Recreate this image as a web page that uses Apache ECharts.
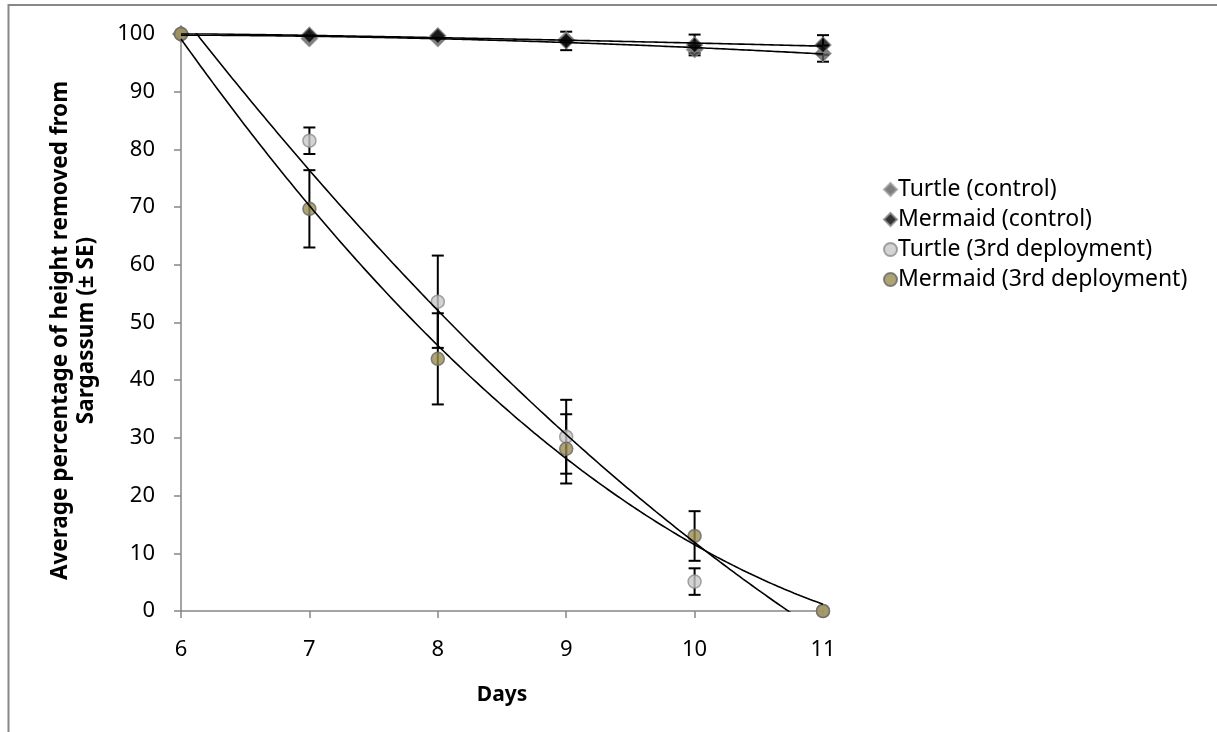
<!DOCTYPE html>
<html>
<head>
<meta charset="utf-8">
<script src="https://cdn.jsdelivr.net/npm/echarts@6/dist/echarts.min.js"></script>
<style>
html,body{margin:0;padding:0;background:#fff;}
#chart{width:1217px;height:732px;}
</style>
</head>
<body>
<div id="chart"></div>
<script>
// ---- data ----
const days = [6, 7, 8, 9, 10, 11];
const xTicks = [6, 7, 8, 9, 10, 11];
const yTicks = [0, 10, 20, 30, 40, 50, 60, 70, 80, 90, 100];

const turtleCtrl    = [100, 99.2, 99.2, 99.0, 97.3, 96.6];
const turtleCtrlSE  = [0, 0, 0, 0.3, 0.6, 1.4];
const mermaidCtrl   = [100, 99.8, 99.7, 98.8, 98.1, 98.1];
const mermaidCtrlSE = [0, 0, 0, 1.6, 1.8, 1.7];
const turtle3rd     = [100, 81.5, 53.6, 30.2, 5.1, 0];
const turtle3rdSE   = [0, 2.3, 8.0, 6.4, 2.3, 0];
const mermaid3rd    = [100, 69.7, 43.7, 28.1, 13.0, 0];
const mermaid3rdSE  = [0, 6.7, 7.9, 6.0, 4.3, 0];

const seriesNames = ['Turtle (control)', 'Mermaid (control)', 'Turtle (3rd deployment)', 'Mermaid (3rd deployment)'];

// ---- helpers ----
function pairs(xs, ys) { return xs.map((x, i) => [x, ys[i]]); }
function errPairs(xs, ys, se) {
  const out = [];
  xs.forEach((x, i) => { if (se[i] > 0) out.push([x, ys[i] - se[i], ys[i] + se[i]]); });
  return out;
}
// Excel-style order-2 polynomial trendline (least squares)
function quadFit(xs, ys) {
  let S = [0,0,0,0,0], T = [0,0,0];
  xs.forEach((x, i) => {
    for (let k = 0; k < 5; k++) S[k] += Math.pow(x, k);
    for (let k = 0; k < 3; k++) T[k] += Math.pow(x, k) * ys[i];
  });
  const M = [[S[0],S[1],S[2],T[0]],[S[1],S[2],S[3],T[1]],[S[2],S[3],S[4],T[2]]];
  for (let c = 0; c < 3; c++) {
    for (let r = c + 1; r < 3; r++) {
      const f = M[r][c] / M[c][c];
      for (let k = c; k < 4; k++) M[r][k] -= f * M[c][k];
    }
  }
  const coef = [0,0,0];
  for (let r = 2; r >= 0; r--) {
    let s = M[r][3];
    for (let k = r + 1; k < 3; k++) s -= M[r][k] * coef[k];
    coef[r] = s / M[r][r];
  }
  return coef;
}
function trend(xs, ys) {
  const c = quadFit(xs, ys);
  const out = [];
  const x0 = xs[0], x1 = xs[xs.length - 1];
  for (let i = 0; i <= 200; i++) {
    const x = x0 + (x1 - x0) * i / 200;
    out.push([x, c[0] + c[1] * x + c[2] * x * x]);
  }
  return out;
}

function errorSeries(data) {
  return {
    type: 'custom', z: 2, silent: true, clip: false,
    data: data,
    renderItem: function (params, api) {
      const x = api.value(0);
      const lo = api.coord([x, api.value(1)]);
      const hi = api.coord([x, api.value(2)]);
      const hw = 6;
      const st = { stroke: '#000', lineWidth: 2 };
      return {
        type: 'group',
        children: [
          { type: 'line', shape: { x1: lo[0], y1: lo[1], x2: hi[0], y2: hi[1] }, style: st },
          { type: 'line', shape: { x1: lo[0] - hw, y1: lo[1], x2: lo[0] + hw, y2: lo[1] }, style: st },
          { type: 'line', shape: { x1: hi[0] - hw, y1: hi[1], x2: hi[0] + hw, y2: hi[1] }, style: st }
        ]
      };
    }
  };
}
function trendSeries(data) {
  return {
    type: 'line', data: data, showSymbol: false, symbol: 'none', smooth: false,
    clip: true, silent: true, z: 4,
    lineStyle: { color: '#000', width: 1.6 }
  };
}

const FONT = 'Noto Sans';
const chart = echarts.init(document.getElementById('chart'));
chart.setOption({
  animation: false,
  backgroundColor: '#fff',
  graphic: [{
    type: 'rect', shape: { x: 8.5, y: 5, width: 1400, height: 900 },
    style: { fill: 'none', stroke: '#888', lineWidth: 2 }, silent: true, z: -1
  }],
  grid: { left: 181, right: 1217 - 823, top: 34, bottom: 732 - 611 },
  xAxis: {
    type: 'value', min: 6, max: 11, interval: 1,
    name: 'Days', nameLocation: 'middle', nameGap: 74,
    nameTextStyle: { fontFamily: FONT, fontWeight: 'bold', fontSize: 21, color: '#000' },
    axisLine: { onZero: false, lineStyle: { color: '#868686', width: 1.5 } },
    axisTick: { show: true, length: 7, inside: false, lineStyle: { color: '#868686', width: 1.5 } },
    axisLabel: { fontFamily: FONT, fontSize: 22, color: '#000', margin: 28,
      formatter: v => xTicks.includes(v) ? String(v) : '' },
    splitLine: { show: false }
  },
  yAxis: {
    type: 'value', min: 0, max: 100, interval: 10,
    name: 'Average percentage of height removed from\nSargassum (± SE)',
    nameLocation: 'middle', nameGap: 81, nameRotate: 90,
    nameTextStyle: { fontFamily: FONT, fontWeight: 'bold', fontSize: 22.5, color: '#000', lineHeight: 26, padding: [0, 16, 0, 0] },
    axisLine: { show: true, lineStyle: { color: '#868686', width: 1.5 } },
    axisTick: { show: true, length: 7, inside: false, lineStyle: { color: '#868686', width: 1.5 } },
    axisLabel: { fontFamily: FONT, fontSize: 22, color: '#000', margin: 26,
      formatter: v => yTicks.includes(v) ? String(v) : '' },
    splitLine: { show: false }
  },
  legend: {
    data: seriesNames, orient: 'vertical', left: 878, top: 173, itemGap: 7,
    itemWidth: 13, itemHeight: 13,
    textStyle: { fontFamily: FONT, fontSize: 23, color: '#000', padding: [0, 0, 0, -4] }
  },
  series: [
    errorSeries(errPairs(days, turtleCtrl, turtleCtrlSE)),
    errorSeries(errPairs(days, mermaidCtrl, mermaidCtrlSE)),
    errorSeries(errPairs(days, turtle3rd, turtle3rdSE)),
    errorSeries(errPairs(days, mermaid3rd, mermaid3rdSE)),
    { name: seriesNames[0], type: 'scatter', data: pairs(days, turtleCtrl), symbol: 'diamond', symbolSize: 17, z: 3,
      itemStyle: { color: '#5e5e5e', borderColor: '#a0a0a0', borderWidth: 1 } },
    { name: seriesNames[1], type: 'scatter', data: pairs(days, mermaidCtrl), symbol: 'diamond', symbolSize: 16, z: 3,
      itemStyle: { color: '#000', borderColor: '#8a8a8a', borderWidth: 1.2 } },
    { name: seriesNames[2], type: 'scatter', data: pairs(days, turtle3rd), symbol: 'circle', symbolSize: 13, z: 3,
      itemStyle: { color: '#c8c8c8', borderColor: '#8c8c8c', borderWidth: 1.5 } },
    { name: seriesNames[3], type: 'scatter', data: pairs(days, mermaid3rd), symbol: 'circle', symbolSize: 13, z: 3,
      itemStyle: { color: '#9a8c50', borderColor: '#666', borderWidth: 1.5 } },
    trendSeries(trend(days, turtleCtrl)),
    trendSeries(trend(days, mermaidCtrl)),
    trendSeries(trend(days, turtle3rd)),
    trendSeries(trend(days, mermaid3rd))
  ]
});
</script>
</body>
</html>
